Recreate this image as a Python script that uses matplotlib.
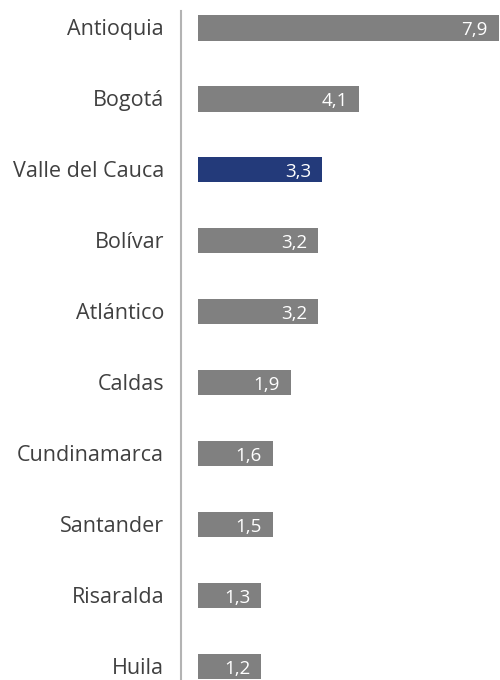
import matplotlib.pyplot as plt
from matplotlib.lines import Line2D

# Datos
departamentos = ["Antioquia", "Bogotá", "Valle del Cauca", "Bolívar", "Atlántico",
                 "Caldas", "Cundinamarca", "Santander", "Risaralda", "Huila"]
valores = [7.9, 4.1, 3.3, 3.2, 3.2, 1.9, 1.6, 1.5, 1.3, 1.2]
# largo visible de cada barra
largo_barras = [7.92, 4.24, 3.26, 3.16, 3.16, 2.45, 1.97, 1.97, 1.66, 1.66]
destacado = "Valle del Cauca"

etiquetas = [f"{v:.1f}".replace(".", ",") for v in valores]
colores = ["#233a7a" if d == destacado else "#808080" for d in departamentos]

fig = plt.figure(figsize=(5, 6.8), dpi=100)
ax = fig.add_axes([0.396, 0, 0.604, 1])

pos = list(range(len(departamentos)))
ax.barh(pos, largo_barras, height=0.362, color=colores)
ax.set_xlim(0, 7.95)
ax.set_ylim(9.19, -0.39)
ax.axis("off")

for i, (d, et, l) in enumerate(zip(departamentos, etiquetas, largo_barras)):
    ax.annotate(d, xy=(0, i), xytext=(-34, -7), textcoords="offset pixels",
                ha="right", va="baseline", fontsize=15.5, color="#404040",
                family="Open Sans", annotation_clip=False)
    ax.annotate(et, xy=(l, i), xytext=(-11, -7), textcoords="offset pixels",
                ha="right", va="baseline", fontsize=13.5, color="white",
                family="Open Sans")

# linea vertical de eje
fig.add_artist(Line2D([180.7 / 500] * 2, [1 - 11 / 680, 0], color="#b3b3b3", lw=1.5))

fig.savefig("out.png", dpi=100)
